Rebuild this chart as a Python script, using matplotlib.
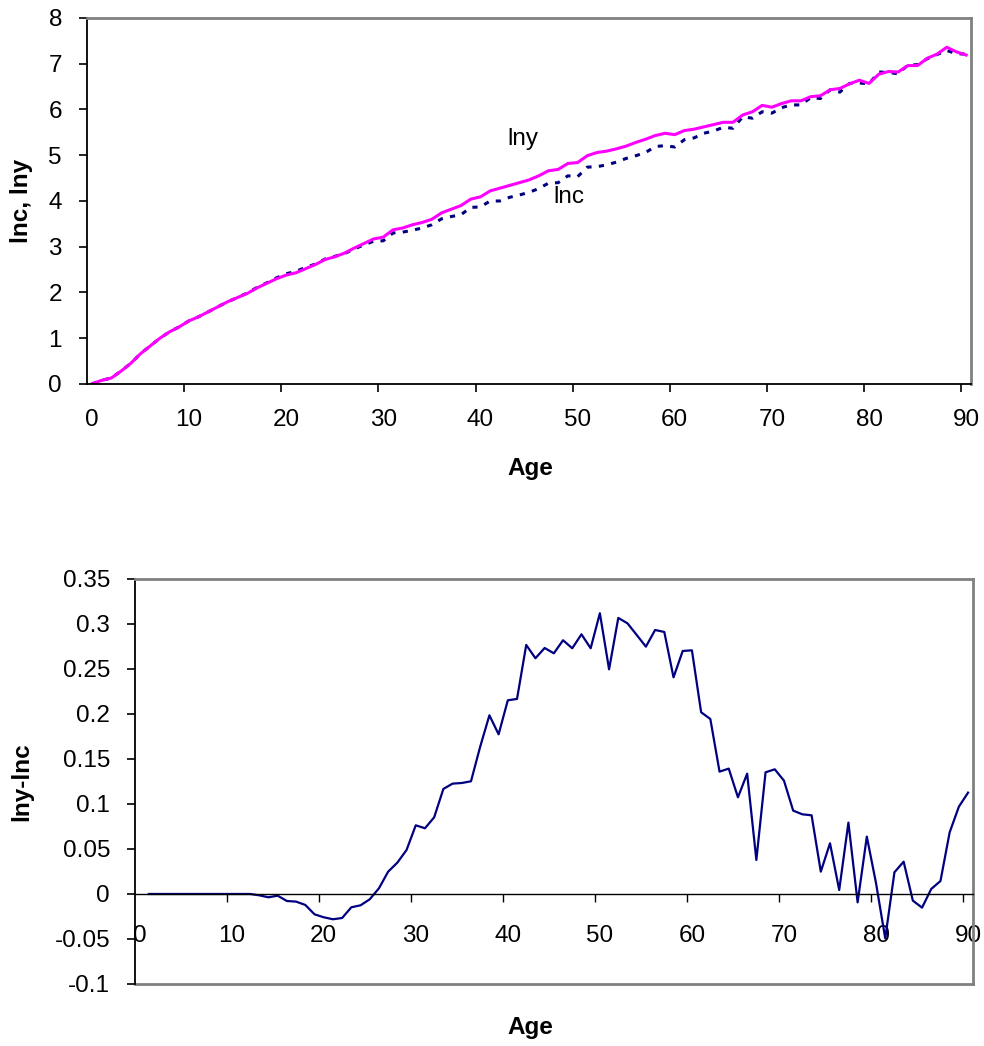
import numpy as np
import matplotlib.pyplot as plt
from matplotlib.ticker import FixedLocator

plt.rcParams['font.family'] = ['Liberation Sans', 'DejaVu Sans']

# ages 0..90 (category axis, as in the spreadsheet chart)
ages = list(range(0, 91))

lny = [0.00, 0.08, 0.13, 0.28, 0.45, 0.66, 0.83, 1.00, 1.14, 1.25,
       1.38, 1.47, 1.58, 1.69, 1.80, 1.89, 1.98, 2.10, 2.20, 2.30,
       2.38, 2.43, 2.52, 2.61, 2.72, 2.78, 2.86, 2.97, 3.07, 3.17,
       3.21, 3.37, 3.41, 3.48, 3.53, 3.60, 3.74, 3.82, 3.90, 4.04,
       4.09, 4.22, 4.28, 4.34, 4.40, 4.46, 4.55, 4.66, 4.69, 4.82,
       4.84, 4.99, 5.06, 5.09, 5.14, 5.20, 5.28, 5.35, 5.43, 5.48,
       5.45, 5.54, 5.57, 5.62, 5.67, 5.72, 5.72, 5.88, 5.95, 6.09,
       6.05, 6.13, 6.19, 6.19, 6.28, 6.30, 6.43, 6.46, 6.56, 6.64,
       6.57, 6.77, 6.83, 6.82, 6.96, 6.96, 7.12, 7.21, 7.36, 7.26,
       7.19]

lnc = [0.00, 0.08, 0.13, 0.28, 0.45, 0.66, 0.83, 1.00, 1.14, 1.25,
       1.38, 1.47, 1.58, 1.69, 1.80, 1.89, 1.99, 2.11, 2.21, 2.32,
       2.41, 2.46, 2.55, 2.62, 2.73, 2.79, 2.85, 2.95, 3.04, 3.12,
       3.13, 3.30, 3.32, 3.36, 3.41, 3.48, 3.61, 3.66, 3.70, 3.86,
       3.87, 4.00, 4.00, 4.08, 4.13, 4.19, 4.27, 4.39, 4.40, 4.55,
       4.53, 4.74, 4.75, 4.79, 4.85, 4.93, 4.99, 5.06, 5.19, 5.21,
       5.18, 5.34, 5.38, 5.48, 5.53, 5.61, 5.59, 5.84, 5.81, 5.95,
       5.92, 6.04, 6.10, 6.10, 6.26, 6.24, 6.43, 6.38, 6.57, 6.58,
       6.56, 6.82, 6.81, 6.78, 6.97, 6.98, 7.11, 7.20, 7.29, 7.22,
       7.21]

# lny-lnc, no value for age 0
diff = [np.nan, 0.0, 0.0, 0.0, 0.0, 0.0, 0.0, 0.0, 0.0, 0.0,
        0.0, 0.0, 0.0, -0.0015, -0.0037, -0.0019, -0.0078, -0.0085, -0.0122, -0.0226,
        -0.0259, -0.0281, -0.0267, -0.0148, -0.0126, -0.0059, 0.0063, 0.0248, 0.0348, 0.0489,
        0.0763, 0.0730, 0.0852, 0.1167, 0.1226, 0.1233, 0.1252, 0.1637, 0.1985, 0.1774,
        0.2152, 0.2167, 0.2767, 0.2619, 0.2733, 0.2674, 0.2819, 0.2730, 0.2885, 0.2730,
        0.3119, 0.2496, 0.3067, 0.3007, 0.2878, 0.2748, 0.2933, 0.2911, 0.2407, 0.2700,
        0.2707, 0.2019, 0.1944, 0.1359, 0.1393, 0.1074, 0.1337, 0.0378, 0.1352, 0.1385,
        0.1259, 0.0926, 0.0885, 0.0874, 0.0248, 0.0563, 0.0044, 0.0793, -0.0093, 0.0637,
        0.0120, -0.0493, 0.0241, 0.0359, -0.0074, -0.0152, 0.0056, 0.0144, 0.0685, 0.0970,
        0.1126]

xtick_vals = list(range(0, 91, 10))
top_yticks = list(range(0, 9))
bot_yticks = [-0.1, -0.05, 0, 0.05, 0.1, 0.15, 0.2, 0.25, 0.3, 0.35]
bot_ylabels = ['-0.1', '-0.05', '0', '0.05', '0.1', '0.15', '0.2', '0.25', '0.3', '0.35']

FS = 17.5
gray = '#808080'

fig = plt.figure(figsize=(9.84, 10.46), dpi=100)
ax1 = fig.add_axes([0.0884, 0.6329, 0.8984, 0.3499])
ax2 = fig.add_axes([0.1372, 0.0593, 0.8513, 0.3872])

# ---- top chart
ax1.plot(ages, lnc, color='#000080', lw=2.2, ls=(0, (1.7, 2.4)))
ax1.plot(ages, lny, color='#ff00ff', lw=2.2)
ax1.set_xlim(-0.5, 90.5)
ax1.set_ylim(0, 8)
ax1.set_yticks(top_yticks)
ax1.set_xticks(xtick_vals)
ax1.xaxis.set_minor_locator(FixedLocator([v + 9.5 for v in xtick_vals[:-1]]))
ax1.tick_params(axis='x', which='major', length=0, pad=18, labelsize=FS)
ax1.tick_params(axis='x', which='minor', length=6, width=1.2, direction='out')
ax1.tick_params(axis='y', length=6, width=1.2, direction='out', pad=12, labelsize=FS)
for s in ['top', 'right']:
    ax1.spines[s].set_color(gray)
    ax1.spines[s].set_linewidth(2)
for s in ['left', 'bottom']:
    ax1.spines[s].set_color('black')
    ax1.spines[s].set_linewidth(1.3)
ax1.text(44.4, 5.22, 'lny', fontsize=FS, ha='center', va='baseline')
ax1.text(49.1, 3.96, 'lnc', fontsize=FS, ha='center', va='baseline')
ax1.set_xlabel('Age', fontsize=FS, fontweight='bold')
ax1.xaxis.set_label_coords(0.501, -0.2)
ax1.set_ylabel('lnc, lny', fontsize=FS, fontweight='bold')
ax1.yaxis.set_label_coords(-0.061, 0.5)

# ---- bottom chart
ax2.plot(ages, diff, color='#000080', lw=1.6)
ax2.set_xlim(-0.5, 90.5)
ax2.set_ylim(-0.1, 0.35)
ax2.set_yticks(bot_yticks)
ax2.set_yticklabels(bot_ylabels)
ax2.set_xticks(xtick_vals)
ax2.xaxis.set_minor_locator(FixedLocator([v + 9.5 for v in xtick_vals[:-1]]))
ax2.spines['bottom'].set_position(('data', 0))
ax2.spines['bottom'].set_color('black')
ax2.spines['bottom'].set_linewidth(1.0)
ax2.tick_params(axis='x', which='major', length=0, pad=22, labelsize=FS)
ax2.tick_params(axis='x', which='minor', length=6, width=1.0, direction='out')
ax2.tick_params(axis='y', length=6, width=1.2, direction='out', pad=12, labelsize=FS)
for s in ['top', 'right']:
    ax2.spines[s].set_color(gray)
    ax2.spines[s].set_linewidth(2)
ax2.spines['left'].set_color('black')
ax2.spines['left'].set_linewidth(1.3)
# gray plot-area border at the bottom
ax2.plot([0, 1], [0, 0], transform=ax2.transAxes, color=gray, lw=2, clip_on=False)
ax2.set_xlabel('Age', fontsize=FS, fontweight='bold')
ax2.xaxis.set_label_coords(0.4715, -0.08)
ax2.set_ylabel('lny-lnc', fontsize=FS, fontweight='bold')
ax2.yaxis.set_label_coords(-0.122, 0.5)

plt.savefig('out.png', dpi=100)
